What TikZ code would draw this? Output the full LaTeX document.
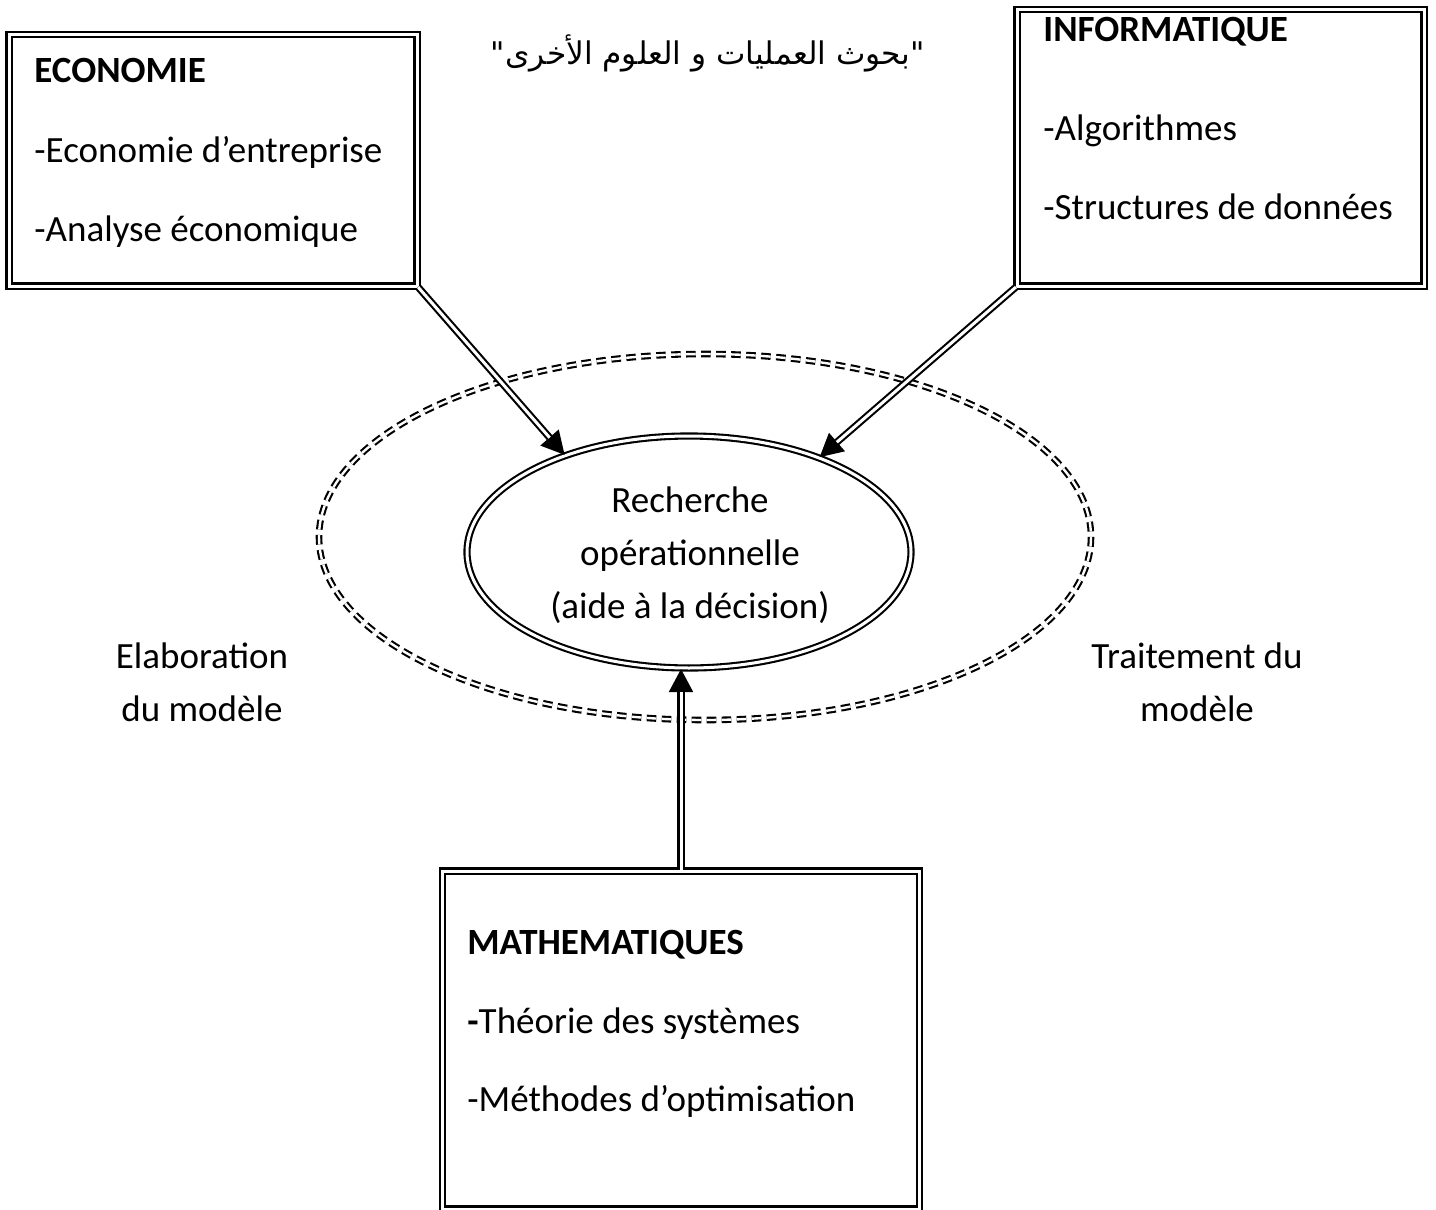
\documentclass[tikz,border=0pt]{standalone}
\usepackage{fontspec}
\setmainfont{Carlito}
\newfontfamily\arabicfont[Script=Arabic]{DejaVu Sans}
\TeXXeTstate=1
\usetikzlibrary{arrows.meta,shapes.geometric}

% a double-ruled connector: thin line carrying the tip, double shaft on top
\newcommand{\feedarrow}[2]{%
  \draw[feedtip] (#1) -- (#2);
  \draw[feedshaft] (#1) -- (#2);}

\begin{document}
\begin{tikzpicture}[x=0.5pt, y=-0.5pt,
  dblrule/.style={draw, line width=1.05pt, double, double distance=1.5pt},
  fieldbox/.style={dblrule, rectangle, inner sep=0pt, fill=white},
  corebox/.style={dblrule, ellipse, inner sep=0pt},
  orbit/.style={draw, line width=1.05pt, double, double distance=1.2pt,
                dash pattern=on 4.8pt off 2.7pt},
  basetext/.style={inner sep=0pt, font=\fontsize{18.5}{22}\selectfont},
  rowtext/.style={basetext, anchor=base west},
  headtext/.style={rowtext, font=\fontsize{18.5}{22}\selectfont\bfseries},
  ctrtext/.style={basetext, anchor=base},
  feedtip/.style={line width=1pt, -{Triangle[length=11.5pt,width=12pt]}},
  feedshaft/.style={line width=1.05pt, double, double distance=1.5pt, shorten >=11.4pt}
]
\clip (0,0) rectangle (1436,1210);

% dashed outer orbit
\draw[orbit] (705,537) ellipse [x radius=386, y radius=183];

% central ellipse
\node[corebox, minimum width=222pt, minimum height=116pt] (ro) at (689,552) {};

% three discipline boxes (outlines only here)
\coordinate (eco) at (213,160.25);
\coordinate (info) at (1220.5,147.75);
\coordinate (math) at (681,1040);
\node[fieldbox, minimum width=204pt, minimum height=125.75pt] (ecobox) at (eco) {};
\node[fieldbox, minimum width=203.5pt, minimum height=138.25pt] (infobox) at (info) {};
\node[fieldbox, minimum width=238.5pt, minimum height=169pt] (mathbox) at (math) {};

% connectors into the ellipse
\feedarrow{ecobox.south east}{ro.142}
\feedarrow{infobox.south west}{ro.36}
\feedarrow{mathbox.north}{mathbox.north |- ro.south}

% box contents
\node[headtext] (eco-h) at (34,82) {ECONOMIE};
\node[rowtext] (eco-1) at (34,162) {-Economie d’entreprise};
\node[rowtext] (eco-2) at (34,241) {-Analyse économique};

\node[headtext] (info-h) at (1043,41) {INFORMATIQUE};
\node[rowtext] (info-1) at (1043,140) {-Algorithmes};
\node[rowtext] (info-2) at (1043,219) {-Structures de données};

\node[headtext] (math-h) at (467,954) {MATHEMATIQUES};
\node[rowtext] (math-1) at (467,1033) {\textbf{-}Théorie des systèmes};
\node[rowtext] (math-2) at (467,1111) {-Méthodes d’optimisation};

% ellipse text
\node[ctrtext] (ro-1) at (690,512) {Recherche};
\node[ctrtext] (ro-2) at (690,565) {opérationnelle};
\node[ctrtext] (ro-3) at (690,618) {(aide à la décision)};

% side labels
\node[ctrtext] (elab-1) at (202,668) {Elaboration};
\node[ctrtext] (elab-2) at (202,721) {du modèle};
\node[ctrtext] (trt-1) at (1197,668) {Traitement du};
\node[ctrtext] (trt-2) at (1197,721) {modèle};

% Arabic heading
\node[ctrtext, font=\arabicfont\fontsize{15.6}{19}\selectfont] (ar) at (708,64)
  {\beginR "بحوث العمليات و العلوم الأخرى"\endR};
\end{tikzpicture}
\end{document}
